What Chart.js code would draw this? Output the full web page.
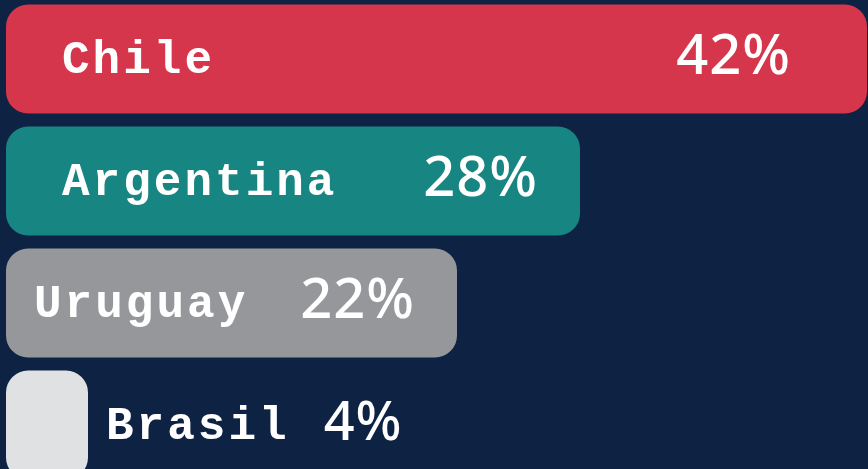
<!DOCTYPE html>
<html>
<head>
<meta charset="utf-8">
<script src="https://cdn.jsdelivr.net/npm/chart.js@4"></script>
<style>
    html, body { margin: 0; padding: 0; background: #0e2244; overflow: hidden; }
    .wrap { position: absolute; left: 0; top: -2px; width: 868px; height: 488px; }
</style>
</head>
<body>
<div class="wrap"><canvas id="shareChart" width="868" height="488"></canvas></div>
<script>
// Data
const countries = ['Chile', 'Argentina', 'Uruguay', 'Brasil'];
const shares = [42, 28, 22, 4];
const barColors = ['#d6364b', '#178582', '#96979b', '#dfe1e3'];

// Label layout inside/after bars (px)
const labelInset = [56, 56, 28, null];
const pctInset = [76, 42, 42, null];

const barLabels = {
    id: 'barLabels',
    afterDatasetsDraw(chart) {
        const ctx = chart.ctx;
        const bars = chart.getDatasetMeta(0).data;
        ctx.save();
        ctx.fillStyle = '#ffffff';
        ctx.textBaseline = 'alphabetic';
        bars.forEach((bar, i) => {
            const name = countries[i];
            const pct = shares[i] + '%';
            const cy = bar.y;
            ctx.font = 'bold 46px "Liberation Mono", monospace';
            ctx.letterSpacing = '3px';
            ctx.textAlign = 'left';
            if (labelInset[i] !== null) {
                ctx.fillText(name, bar.base + labelInset[i], cy + 14);
                ctx.font = '500 56px "Noto Sans", sans-serif';
                ctx.letterSpacing = '1px';
                ctx.textAlign = 'right';
                ctx.fillText(pct, bar.x - pctInset[i], cy + 15);
            } else {
                // small bar: text goes after it
                const x0 = bar.x + 18;
                ctx.fillText(name, x0, cy + 14);
                const w = ctx.measureText(name).width;
                ctx.font = '500 54px "Noto Sans", sans-serif';
                ctx.letterSpacing = '1px';
                ctx.fillText(pct, x0 + w + 34, cy + 15);
            }
        });
        ctx.restore();
    }
};

new Chart(document.getElementById('shareChart'), {
    type: 'bar',
    data: {
        labels: countries,
        datasets: [{
            data: shares,
            backgroundColor: barColors,
            borderRadius: 22,
            borderSkipped: false,
            barPercentage: 0.893,
            categoryPercentage: 1
        }]
    },
    options: {
        indexAxis: 'y',
        responsive: false,
        animation: false,
        layout: { padding: { left: 6, right: 1, top: 0, bottom: 0 } },
        plugins: {
            legend: { display: false },
            tooltip: { enabled: false }
        },
        scales: {
            x: { display: false, min: 0, max: 42 },
            y: { display: false }
        }
    },
    plugins: [barLabels]
});
</script>
</body>
</html>
